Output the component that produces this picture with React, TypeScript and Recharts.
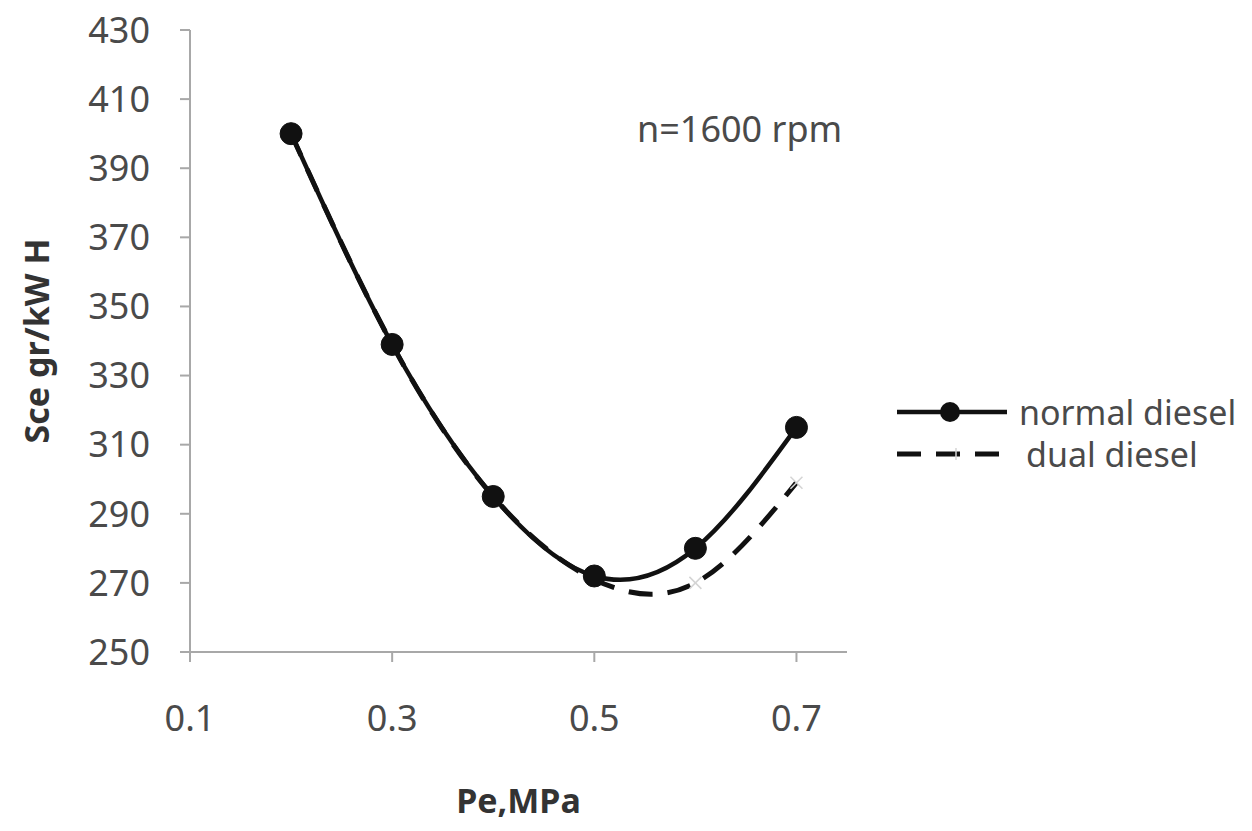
import React from 'react';
import { LineChart, Line, XAxis, YAxis, Label } from 'recharts';

const pe = [0.2, 0.3, 0.4, 0.5, 0.6, 0.7];
const normalDiesel = [400, 339, 295, 272, 280, 315];
const dualDiesel = [400, 339, 295, 271, 270, 299];
const yTicks = [250, 270, 290, 310, 330, 350, 370, 390, 410, 430];
const xTicks = [0.1, 0.3, 0.5, 0.7];
const seriesNames = ['normal diesel', 'dual diesel'];
const annotation = 'n=1600 rpm';
const xTitle = 'Pe,MPa';
const yTitle = 'Sce gr/kW H';

const data = pe.map((p, i) => ({ pe: p, normal: normalDiesel[i], dual: dualDiesel[i] }));

const FONT = "'Noto Sans', 'Open Sans', sans-serif";
const TXT = '#4a4a4a';

const CrossDot = (props: any) => {
  const { cx, cy } = props;
  if (cx == null || cy == null) return null;
  const s = 6;
  return (
    <g stroke="#d4d4d4" strokeWidth={1.5}>
      <line x1={cx - s} y1={cy - s} x2={cx + s} y2={cy + s} />
      <line x1={cx - s} y1={cy + s} x2={cx + s} y2={cy - s} />
    </g>
  );
};

export default function App() {
  return (
    <div style={{ position: 'absolute', left: 0, top: 0, width: 1252, height: 831, background: '#fff', fontFamily: FONT }}>
      <LineChart width={1252} height={831} data={data} margin={{ top: 30, right: 405, left: 0, bottom: 0 }}>
        <XAxis
          dataKey="pe"
          type="number"
          domain={[0.1, 0.75]}
          ticks={xTicks}
          allowDataOverflow
          tickSize={10}
          tickMargin={43}
          height={179}
          stroke="#a8a8a8"
          strokeWidth={2}
          tick={{ fill: TXT, fontSize: 36, fontFamily: FONT }}
          tickFormatter={(v: number) => v.toFixed(1)}
        >
          <Label value={xTitle} position="insideTop" offset={137} style={{ fill: '#333', fontSize: 34, fontWeight: 'bold', fontFamily: FONT }} />
        </XAxis>
        <YAxis
          type="number"
          domain={[250, 430]}
          ticks={yTicks}
          interval={0}
          width={190}
          tickSize={10}
          tickMargin={30}
          stroke="#a8a8a8"
          strokeWidth={2}
          tick={{ fill: TXT, fontSize: 36, fontFamily: FONT }}
        >
          <Label value={yTitle} angle={-90} position="insideLeft" offset={37} style={{ fill: '#333', fontSize: 34, fontWeight: 'bold', fontFamily: FONT, textAnchor: 'middle' }} />
        </YAxis>
        <Line
          type="natural"
          dataKey="dual"
          stroke="#111"
          strokeWidth={5}
          strokeDasharray="24 15"
          dot={<CrossDot />}
          activeDot={false}
          isAnimationActive={false}
        />
        <Line
          type="natural"
          dataKey="normal"
          stroke="#111"
          strokeWidth={4.5}
          dot={{ r: 11, fill: '#111', stroke: '#111', strokeWidth: 1 }}
          activeDot={false}
          isAnimationActive={false}
        />
      </LineChart>
      <div style={{ position: 'absolute', left: 637, top: 105, fontSize: 36, lineHeight: '48px', color: TXT, whiteSpace: 'nowrap' }}>{annotation}</div>
      <div style={{ position: 'absolute', left: 895, top: 392 }}>
        <div style={{ display: 'flex', alignItems: 'center', height: 40 }}>
          <svg width={118} height={30}>
            <line x1={2} y1={15} x2={112} y2={15} stroke="#111" strokeWidth={4.5} />
            <circle cx={55} cy={15} r={10} fill="#111" />
          </svg>
          <span style={{ fontSize: 34, lineHeight: '40px', color: TXT, marginLeft: 6, whiteSpace: 'nowrap' }}>{seriesNames[0]}</span>
        </div>
        <div style={{ display: 'flex', alignItems: 'center', height: 40, marginTop: 2 }}>
          <svg width={118} height={30}>
            <line x1={2} y1={15} x2={112} y2={15} stroke="#111" strokeWidth={5} strokeDasharray="24 15" />
            <line x1={61} y1={9} x2={61} y2={21} stroke="#d4d4d4" strokeWidth={1.5} />
          </svg>
          <span style={{ fontSize: 34, lineHeight: '40px', color: TXT, marginLeft: 13, whiteSpace: 'nowrap' }}>{seriesNames[1]}</span>
        </div>
      </div>
    </div>
  );
}
